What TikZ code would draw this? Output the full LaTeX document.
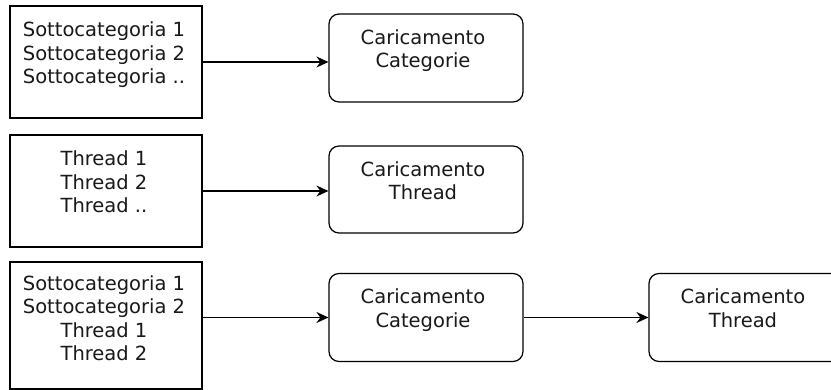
\documentclass[tikz,border=0pt]{standalone}
\usepackage{fontspec}
\setmainfont{DejaVu Sans}
\usetikzlibrary{arrows.meta}
\begin{document}
\begin{tikzpicture}[x=1pt,y=-1pt,
  plain/.style={draw, line width=1.2pt, inner sep=0pt, minimum width=192pt, minimum height=112pt},
  roundbox/.style={draw, line width=1.2pt, rounded corners=10pt, inner sep=0pt, minimum width=194pt, minimum height=88pt},
  txt/.style={font=\fontsize{19.5}{23.4}\selectfont, align=center, inner sep=0pt, anchor=north, text=black!90},
  arr/.style={-{Stealth[length=12pt,width=11pt,inset=4pt]}, line width=1.2pt}]
\clip (0,0) rectangle (831,390);
\fill[white] (0,0) rectangle (831,390);
% row 1
\node[plain] (b1) at (106,62) {};
\node[roundbox] (r1) at (426,58) {};
\node[txt] (t1) at ([xshift=-2pt,yshift=-16.5pt]b1.north) {Sottocategoria 1\\Sottocategoria 2\\Sottocategoria ..};
\node[txt] (u1) at ([xshift=-3pt,yshift=-16pt]r1.north) {Caricamento\\Categorie};
\draw[arr] (b1.east) -- (b1.east -| r1.west);
% row 2
\node[plain] (b2) at (106,191) {};
\node[roundbox, minimum height=87pt] (r2) at (426,189.5) {};
\node[txt] (t2) at ([xshift=-2pt,yshift=-16.5pt]b2.north) {Thread 1\\Thread 2\\Thread ..};
\node[txt] (u2) at ([xshift=-3pt,yshift=-16pt]r2.north) {Caricamento\\Thread};
\draw[arr] (b2.east) -- (b2.east -| r2.west);
% row 3
\node[plain, minimum height=127pt] (b3) at (106,325.5) {};
\node[roundbox] (r3) at (426,317.5) {};
\node[roundbox] (r4) at (746,317.5) {};
\node[txt] (t3) at ([xshift=-2pt,yshift=-14pt]b3.north) {Sottocategoria 1\\Sottocategoria 2\\Thread 1\\Thread 2};
\node[txt] (u3) at ([xshift=-3pt,yshift=-16pt]r3.north) {Caricamento\\Categorie};
\node[txt] (u4) at ([xshift=-3pt,yshift=-16pt]r4.north) {Caricamento\\Thread};
\draw[arr] (r3.west -| b3.east) -- (r3.west);
\draw[arr] (r3.east) -- (r4.west);
\end{tikzpicture}
\end{document}
